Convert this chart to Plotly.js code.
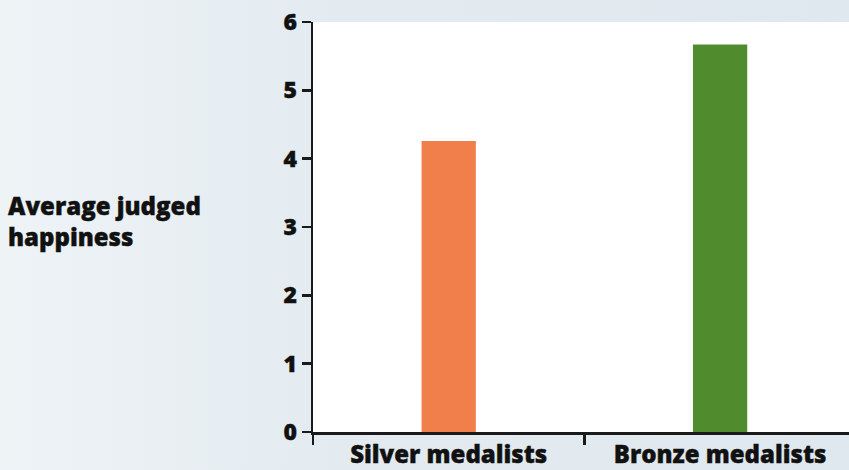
<!DOCTYPE html>
<html>
<head>
<meta charset="utf-8">
<script src="https://cdn.plot.ly/plotly-3.0.1.min.js"></script>
<style>
html,body{margin:0;padding:0;}
body{background:linear-gradient(90deg,#eef3f6 0%,#e3ebf0 40%,#dfe8ee 100%);}
#chart{width:849px;height:470px;}
#chart text{stroke:#111;stroke-width:0.4px;}
</style>
</head>
<body>
<div id="chart"></div>
<script>
const categories = ["Silver medalists", "Bronze medalists"];
const happiness = [4.26, 5.67];
const barColors = ["#f17f4b", "#508b2d"];
const yTicks = [0, 1, 2, 3, 4, 5, 6];
const yTitle = "Average judged<br>happiness";

const trace = {
  type: "bar",
  x: categories,
  y: happiness,
  width: 0.2,
  marker: {color: barColors, line: {width: 0}},
  hoverinfo: "none"
};

const fam = "Open Sans, Noto Sans, sans-serif";

const layout = {
  width: 849, height: 470,
  margin: {l: 313, r: 0, t: 22, b: 38},
  paper_bgcolor: "rgba(0,0,0,0)",
  plot_bgcolor: "#ffffff",
  showlegend: false,
  font: {family: fam, color: "#111", size: 22, weight: 800},
  xaxis: {
    type: "category",
    range: [-0.5, 1.475],
    showline: true, linecolor: "#1a1a1a", linewidth: 2.5,
    ticks: "outside", tickson: "boundaries", ticklen: 10, tickwidth: 2.5, tickcolor: "#1a1a1a",
    ticklabelstandoff: 0,
    showgrid: false, zeroline: false,
    tickfont: {family: fam, size: 24, color: "#111", weight: 800},
    fixedrange: true
  },
  yaxis: {
    range: [0, 6],
    tickvals: yTicks,
    ticktext: yTicks.map(String),
    showline: true, linecolor: "#1a1a1a", linewidth: 2.5,
    ticks: "outside", ticklen: 9, tickwidth: 2.5, tickcolor: "#1a1a1a",
    showgrid: false, zeroline: false,
    tickfont: {family: fam, size: 23, color: "#111", weight: 800},
    fixedrange: true
  },
  annotations: [{
    text: yTitle,
    xref: "paper", yref: "paper",
    x: -0.572, y: 0.515,
    xanchor: "left", yanchor: "middle", align: "left",
    showarrow: false,
    font: {family: fam, size: 24, color: "#111", weight: 800}
  }]
};

Plotly.newPlot("chart", [trace], layout, {displayModeBar: false, staticPlot: true});
</script>
</body>
</html>
